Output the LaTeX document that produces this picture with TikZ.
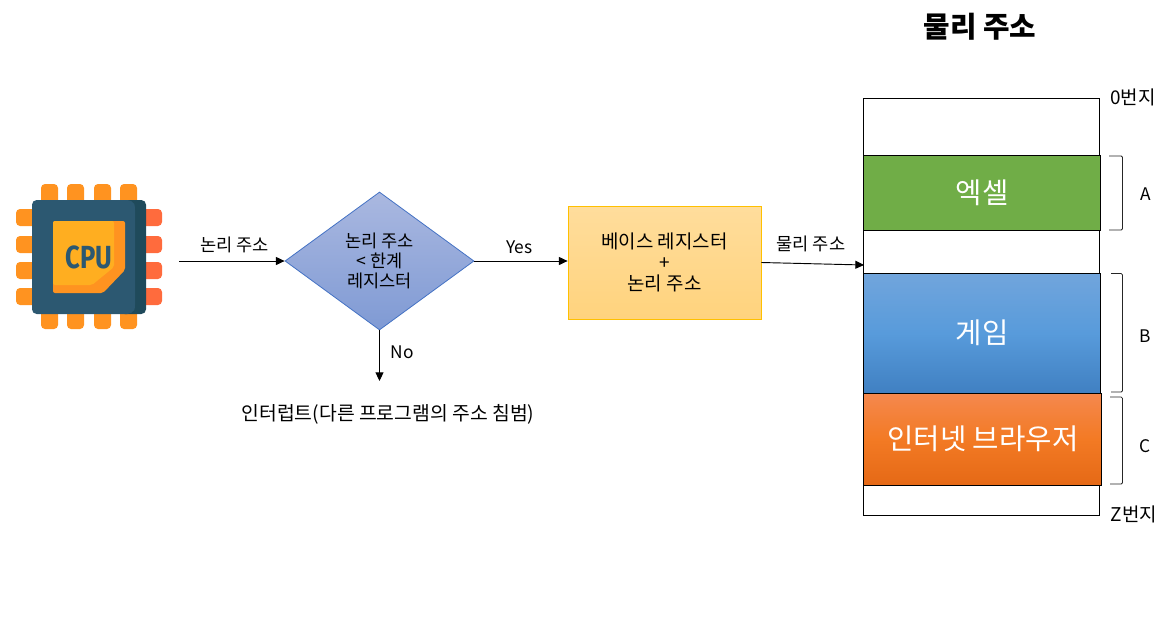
\documentclass[tikz,border=0pt]{standalone}
\usepackage{fontspec}
\setmainfont{Noto Sans CJK KR}
\newfontfamily\cpufont{Fira Sans}
\usetikzlibrary{arrows.meta,shapes.geometric}
\definecolor{cpubody}{RGB}{44,88,113}
\definecolor{cpushade}{RGB}{31,74,91}
\definecolor{pinorange}{RGB}{255,147,32}
\definecolor{pinred}{RGB}{255,107,61}
\definecolor{chiplight}{RGB}{255,174,32}
\definecolor{limitline}{RGB}{68,114,196}
\definecolor{limittop}{RGB}{170,184,224}
\definecolor{limitbottom}{RGB}{127,154,212}
\definecolor{baseline}{RGB}{255,192,0}
\definecolor{basetop}{RGB}{255,221,156}
\definecolor{basebottom}{RGB}{255,211,125}
\definecolor{excelgreen}{RGB}{112,173,71}
\definecolor{gametop}{RGB}{113,165,220}
\definecolor{gamemid}{RGB}{88,155,219}
\definecolor{gamebottom}{RGB}{64,128,194}
\definecolor{browsertop}{RGB}{244,136,78}
\definecolor{browsermid}{RGB}{243,122,36}
\definecolor{browserbottom}{RGB}{229,105,22}
\tikzset{
  arrow/.style={-{Triangle[length=6.5pt,width=6pt]}, line width=0.7pt, black},
  label/.style={font=\fontsize{13.2}{14.8}\selectfont, align=center, inner sep=0pt},
  edgelabel/.style={label, font=\fontsize{13}{15}\selectfont},
  biglabel/.style={font=\fontsize{21.5}{23}\selectfont, text=white, align=center, inner sep=0pt},
  memblock/.style={rectangle, draw=black, line width=0.75pt, inner sep=0pt, minimum width=177.75pt},
  bracket/.style={draw=black!85, line width=0.6pt, rounded corners=1pt},
}
\begin{document}
\begin{tikzpicture}[x=0.75pt,y=-0.75pt]
\useasboundingbox (0,0) rectangle (1176,635);
% cpu icon
\foreach \px in {41,67,94,120} {
  \fill[pinorange, rounded corners=3pt] (\px,184) rectangle (\px+17,215);
  \fill[pinorange, rounded corners=3pt] (\px,300) rectangle (\px+17,329);
}
\foreach \py in {209,236,262,288} {
  \fill[pinorange, rounded corners=3pt] (16,\py) rectangle (45,\py+17);
  \fill[pinred, rounded corners=3pt] (135,\py) rectangle (162,\py+17);
}
\fill[cpushade, rounded corners=3.5pt] (120,200) rectangle (146,314);
\fill[cpubody, rounded corners=3.5pt] (32,200) -- (132,200) to[out=-60,in=90] (135,215) -- (135,300) to[out=-90,in=60] (132,314) -- (32,314) -- cycle;
\fill[pinorange, rounded corners=1.5pt] (53,221) -- (125,221) -- (125,270) -- (103,293) -- (53,293) -- cycle;
\fill[chiplight, rounded corners=1.5pt] (53,221) -- (114,221) -- (114,267) -- (92,285) -- (53,285) -- cycle;
\node[inner sep=0pt, text=cpubody, font=\cpufont\bfseries\fontsize{24}{24}\selectfont, xscale=0.8] (cpu) at (89,257) {CPU};
% flow
\coordinate (start) at (179,261);
\node[diamond, label, draw=limitline, line width=0.6pt, shape aspect=1.37, minimum width=141.75pt, minimum height=103.5pt,
      top color=limittop, bottom color=limitbottom] (limit) at (379.5,261) {논리 주소\\< 한계\\레지스터};
\node[rectangle, draw=baseline, line width=0.6pt, top color=basetop, bottom color=basebottom, inner sep=0pt,
      minimum width=144.75pt, minimum height=84.75pt, font=\fontsize{14.2}{15.75}\selectfont, align=center] (base) at (664.5,262.5) {베이스 레지스터\\+\\논리 주소};
\coordinate (trap) at (379.5,381);
\node[label, font=\fontsize{14.5}{16}\selectfont] (fault) at (388,414) {인터럽트(다른 프로그램의 주소 침범)};
\draw[arrow] (start) -- (limit.west);
\draw[arrow] (limit.east) -- (limit.east -| base.west);
\draw[arrow] (limit.south) -- (trap);
\node[label] (logical) at (234.5,245) {논리 주소};
\node[edgelabel] (yes) at (519.5,247.5) {Yes};
\node[edgelabel] (no) at (402,352) {No};
\node[label] (physical) at (811,244) {물리 주소};
% memory
\node[font=\bfseries\fontsize{21.6}{23}\selectfont, inner sep=0pt] (title) at (980,27) {물리 주소};
\node[rectangle, draw=black, line width=0.75pt, inner sep=0pt, minimum width=177pt, minimum height=313.2pt] (mem) at (981.8,307) {};
\node[memblock, fill=excelgreen, minimum height=56.25pt] (excel) at (982.3,192.5) {};
\node[memblock, top color=gametop, bottom color=gamebottom, middle color=gamemid, minimum height=90pt] (game) at (982.3,333) {};
\node[memblock, top color=browsertop, bottom color=browserbottom, middle color=browsermid, minimum width=178.5pt, minimum height=69pt] (browser) at (982.9,439) {};
\node[biglabel] at (excel.center) {엑셀};
\node[biglabel] at (game.center) {게임};
\node[biglabel] at (browser.center) {인터넷 브라우저};
\coordinate (memin) at (864,265);
\draw[arrow] (base.east) -- (memin);
\node[edgelabel, font=\fontsize{14.2}{15}\selectfont] (top) at (1133,97) {0번지};
\node[edgelabel, font=\fontsize{14.2}{15}\selectfont] (bottom) at (1134,514) {Z번지};
\draw[bracket] (1109,156) -- (1122.5,156) -- (1122.5,230) -- (1109,230);
\draw[bracket] (1111,273.5) -- (1122.5,273.5) -- (1122.5,392) -- (1111,392);
\draw[bracket] (1110,397) -- (1122.5,397) -- (1122.5,484) -- (1110,484);
\node[edgelabel] (sega) at (1146,194) {A};
\node[edgelabel] (segb) at (1145,336) {B};
\node[edgelabel] (segc) at (1145,446) {C};
\end{tikzpicture}
\end{document}
